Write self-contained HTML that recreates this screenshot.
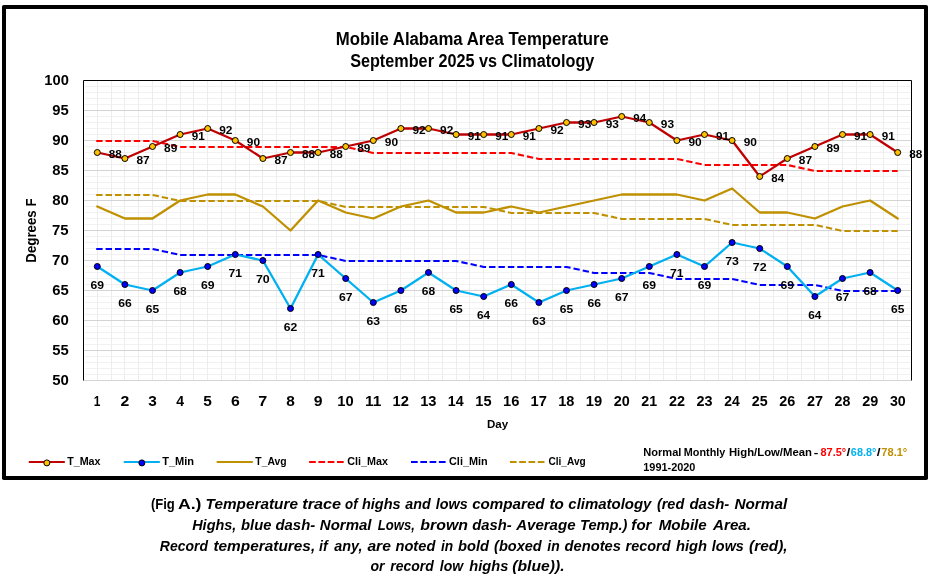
<!DOCTYPE html>
<html lang="en"><head><meta charset="utf-8"><title>Mobile Alabama Area Temperature - September 2025 vs Climatology</title>
<style>html,body{margin:0;padding:0;background:#fff}svg{display:block;will-change:transform}</style></head>
<body>
<svg width="930" height="579" viewBox="0 0 930 579">
<rect width="930" height="579" fill="#fff"/>
<rect x="2" y="5" width="926" height="475" rx="1.8" fill="#000"/>
<rect x="6" y="9" width="918" height="467" fill="#fff"/>
<path d="M85.0 374.5H910.0M85.0 368.5H910.0M85.0 362.5H910.0M85.0 356.5H910.0M85.0 344.5H910.0M85.0 338.5H910.0M85.0 332.5H910.0M85.0 326.5H910.0M85.0 314.5H910.0M85.0 308.5H910.0M85.0 302.5H910.0M85.0 296.5H910.0M85.0 284.5H910.0M85.0 278.5H910.0M85.0 272.5H910.0M85.0 266.5H910.0M85.0 254.5H910.0M85.0 248.5H910.0M85.0 242.5H910.0M85.0 236.5H910.0M85.0 224.5H910.0M85.0 218.5H910.0M85.0 212.5H910.0M85.0 206.5H910.0M85.0 194.5H910.0M85.0 188.5H910.0M85.0 182.5H910.0M85.0 176.5H910.0M85.0 164.5H910.0M85.0 158.5H910.0M85.0 152.5H910.0M85.0 146.5H910.0M85.0 134.5H910.0M85.0 128.5H910.0M85.0 122.5H910.0M85.0 116.5H910.0M85.0 104.5H910.0M85.0 98.5H910.0M85.0 92.5H910.0M85.0 86.5H910.0" stroke="#F1F1F1" stroke-width="1" fill="none"/>
<path d="M97.5 80.5V380.5M111.5 80.5V380.5M124.5 80.5V380.5M138.5 80.5V380.5M152.5 80.5V380.5M166.5 80.5V380.5M180.5 80.5V380.5M193.5 80.5V380.5M207.5 80.5V380.5M221.5 80.5V380.5M235.5 80.5V380.5M249.5 80.5V380.5M262.5 80.5V380.5M276.5 80.5V380.5M290.5 80.5V380.5M304.5 80.5V380.5M318.5 80.5V380.5M331.5 80.5V380.5M345.5 80.5V380.5M359.5 80.5V380.5M373.5 80.5V380.5M387.5 80.5V380.5M400.5 80.5V380.5M414.5 80.5V380.5M428.5 80.5V380.5M442.5 80.5V380.5M456.5 80.5V380.5M469.5 80.5V380.5M483.5 80.5V380.5M497.5 80.5V380.5M511.5 80.5V380.5M525.5 80.5V380.5M538.5 80.5V380.5M552.5 80.5V380.5M566.5 80.5V380.5M580.5 80.5V380.5M594.5 80.5V380.5M607.5 80.5V380.5M621.5 80.5V380.5M635.5 80.5V380.5M649.5 80.5V380.5M663.5 80.5V380.5M676.5 80.5V380.5M690.5 80.5V380.5M704.5 80.5V380.5M718.5 80.5V380.5M732.5 80.5V380.5M745.5 80.5V380.5M759.5 80.5V380.5M773.5 80.5V380.5M787.5 80.5V380.5M801.5 80.5V380.5M814.5 80.5V380.5M828.5 80.5V380.5M842.5 80.5V380.5M856.5 80.5V380.5M870.5 80.5V380.5M883.5 80.5V380.5M897.5 80.5V380.5" stroke="#EDEDED" stroke-width="1" fill="none"/>
<path d="M83.5 380.5H911.5M83.5 350.5H911.5M83.5 320.5H911.5M83.5 290.5H911.5M83.5 260.5H911.5M83.5 230.5H911.5M83.5 200.5H911.5M83.5 170.5H911.5M83.5 140.5H911.5M83.5 110.5H911.5M83.5 80.5H911.5" stroke="#D4D4D4" stroke-width="1" fill="none"/>
<path d="M83.5 380.5V80.5H911.5V380.5" stroke="#000" stroke-width="1" fill="none"/>
<polyline points="96.20,140.95 97.30,140.95 124.90,140.95 152.50,140.95 180.10,146.95 207.70,146.95 235.30,146.95 262.90,146.95 290.50,146.95 318.10,146.95 345.70,146.95 373.30,152.95 400.90,152.95 428.50,152.95 456.10,152.95 483.70,152.95 511.30,152.95 538.90,158.95 566.50,158.95 594.10,158.95 621.70,158.95 649.30,158.95 676.90,158.95 704.50,164.95 732.10,164.95 759.70,164.95 787.30,164.95 814.90,170.95 842.50,170.95 870.10,170.95 897.70,170.95" fill="none" stroke="#FF0000" stroke-width="2.1" stroke-dasharray="6.4 3.0" stroke-linejoin="round"/>
<polyline points="96.20,248.95 97.30,248.95 124.90,248.95 152.50,248.95 180.10,254.95 207.70,254.95 235.30,254.95 262.90,254.95 290.50,254.95 318.10,254.95 345.70,260.95 373.30,260.95 400.90,260.95 428.50,260.95 456.10,260.95 483.70,266.95 511.30,266.95 538.90,266.95 566.50,266.95 594.10,272.95 621.70,272.95 649.30,272.95 676.90,278.95 704.50,278.95 732.10,278.95 759.70,284.95 787.30,284.95 814.90,284.95 842.50,290.95 870.10,290.95 897.70,290.95" fill="none" stroke="#0000FF" stroke-width="2.1" stroke-dasharray="6.4 3.0" stroke-linejoin="round"/>
<polyline points="96.20,194.95 97.30,194.95 124.90,194.95 152.50,194.95 180.10,200.95 207.70,200.95 235.30,200.95 262.90,200.95 290.50,200.95 318.10,200.95 345.70,206.95 373.30,206.95 400.90,206.95 428.50,206.95 456.10,206.95 483.70,206.95 511.30,212.95 538.90,212.95 566.50,212.95 594.10,212.95 621.70,218.95 649.30,218.95 676.90,218.95 704.50,218.95 732.10,224.95 759.70,224.95 787.30,224.95 814.90,224.95 842.50,230.95 870.10,230.95 897.70,230.95" fill="none" stroke="#BF9000" stroke-width="2.1" stroke-dasharray="6.4 3.0" stroke-linejoin="round"/>
<polyline points="97.30,206.50 124.90,218.50 152.50,218.50 180.10,200.50 207.70,194.50 235.30,194.50 262.90,206.50 290.50,230.50 318.10,200.50 345.70,212.50 373.30,218.50 400.90,206.50 428.50,200.50 456.10,212.50 483.70,212.50 511.30,206.50 538.90,212.50 566.50,206.50 594.10,200.50 621.70,194.50 649.30,194.50 676.90,194.50 704.50,200.50 732.10,188.50 759.70,212.50 787.30,212.50 814.90,218.50 842.50,206.50 870.10,200.50 897.70,218.50" fill="none" stroke="#BF9000" stroke-width="2.3" stroke-linejoin="round" stroke-linecap="round"/>
<polyline points="97.30,266.50 124.90,284.50 152.50,290.50 180.10,272.50 207.70,266.50 235.30,254.50 262.90,260.50 290.50,308.50 318.10,254.50 345.70,278.50 373.30,302.50 400.90,290.50 428.50,272.50 456.10,290.50 483.70,296.50 511.30,284.50 538.90,302.50 566.50,290.50 594.10,284.50 621.70,278.50 649.30,266.50 676.90,254.50 704.50,266.50 732.10,242.50 759.70,248.50 787.30,266.50 814.90,296.50 842.50,278.50 870.10,272.50 897.70,290.50" fill="none" stroke="#00B0F0" stroke-width="2.3" stroke-linejoin="round" stroke-linecap="round"/>
<polyline points="97.30,152.50 124.90,158.50 152.50,146.50 180.10,134.50 207.70,128.50 235.30,140.50 262.90,158.50 290.50,152.50 318.10,152.50 345.70,146.50 373.30,140.50 400.90,128.50 428.50,128.50 456.10,134.50 483.70,134.50 511.30,134.50 538.90,128.50 566.50,122.50 594.10,122.50 621.70,116.50 649.30,122.50 676.90,140.50 704.50,134.50 732.10,140.50 759.70,176.50 787.30,158.50 814.90,146.50 842.50,134.50 870.10,134.50 897.70,152.50" fill="none" stroke="#C00000" stroke-width="2.3" stroke-linejoin="round" stroke-linecap="round"/>
<g fill="#0000FF" stroke="#000" stroke-width="1"><circle cx="97.30" cy="266.50" r="3.0"/><circle cx="124.90" cy="284.50" r="3.0"/><circle cx="152.50" cy="290.50" r="3.0"/><circle cx="180.10" cy="272.50" r="3.0"/><circle cx="207.70" cy="266.50" r="3.0"/><circle cx="235.30" cy="254.50" r="3.0"/><circle cx="262.90" cy="260.50" r="3.0"/><circle cx="290.50" cy="308.50" r="3.0"/><circle cx="318.10" cy="254.50" r="3.0"/><circle cx="345.70" cy="278.50" r="3.0"/><circle cx="373.30" cy="302.50" r="3.0"/><circle cx="400.90" cy="290.50" r="3.0"/><circle cx="428.50" cy="272.50" r="3.0"/><circle cx="456.10" cy="290.50" r="3.0"/><circle cx="483.70" cy="296.50" r="3.0"/><circle cx="511.30" cy="284.50" r="3.0"/><circle cx="538.90" cy="302.50" r="3.0"/><circle cx="566.50" cy="290.50" r="3.0"/><circle cx="594.10" cy="284.50" r="3.0"/><circle cx="621.70" cy="278.50" r="3.0"/><circle cx="649.30" cy="266.50" r="3.0"/><circle cx="676.90" cy="254.50" r="3.0"/><circle cx="704.50" cy="266.50" r="3.0"/><circle cx="732.10" cy="242.50" r="3.0"/><circle cx="759.70" cy="248.50" r="3.0"/><circle cx="787.30" cy="266.50" r="3.0"/><circle cx="814.90" cy="296.50" r="3.0"/><circle cx="842.50" cy="278.50" r="3.0"/><circle cx="870.10" cy="272.50" r="3.0"/><circle cx="897.70" cy="290.50" r="3.0"/></g>
<g fill="#FFC000" stroke="#000" stroke-width="1"><circle cx="97.30" cy="152.50" r="3.0"/><circle cx="124.90" cy="158.50" r="3.0"/><circle cx="152.50" cy="146.50" r="3.0"/><circle cx="180.10" cy="134.50" r="3.0"/><circle cx="207.70" cy="128.50" r="3.0"/><circle cx="235.30" cy="140.50" r="3.0"/><circle cx="262.90" cy="158.50" r="3.0"/><circle cx="290.50" cy="152.50" r="3.0"/><circle cx="318.10" cy="152.50" r="3.0"/><circle cx="345.70" cy="146.50" r="3.0"/><circle cx="373.30" cy="140.50" r="3.0"/><circle cx="400.90" cy="128.50" r="3.0"/><circle cx="428.50" cy="128.50" r="3.0"/><circle cx="456.10" cy="134.50" r="3.0"/><circle cx="483.70" cy="134.50" r="3.0"/><circle cx="511.30" cy="134.50" r="3.0"/><circle cx="538.90" cy="128.50" r="3.0"/><circle cx="566.50" cy="122.50" r="3.0"/><circle cx="594.10" cy="122.50" r="3.0"/><circle cx="621.70" cy="116.50" r="3.0"/><circle cx="649.30" cy="122.50" r="3.0"/><circle cx="676.90" cy="140.50" r="3.0"/><circle cx="704.50" cy="134.50" r="3.0"/><circle cx="732.10" cy="140.50" r="3.0"/><circle cx="759.70" cy="176.50" r="3.0"/><circle cx="787.30" cy="158.50" r="3.0"/><circle cx="814.90" cy="146.50" r="3.0"/><circle cx="842.50" cy="134.50" r="3.0"/><circle cx="870.10" cy="134.50" r="3.0"/><circle cx="897.70" cy="152.50" r="3.0"/></g>
<line x1="29.6" y1="462.0" x2="64.1" y2="462.0" stroke="#C00000" stroke-width="2.1" stroke-linecap="round"/><circle cx="46.85" cy="462.9" r="3.0" fill="#FFC000" stroke="#000" stroke-width="1"/>
<line x1="124.6" y1="462.0" x2="159.1" y2="462.0" stroke="#00B0F0" stroke-width="2.1" stroke-linecap="round"/><circle cx="141.85" cy="462.9" r="3.0" fill="#0000FF" stroke="#000" stroke-width="1"/>
<line x1="217.5" y1="462.0" x2="252.1" y2="462.0" stroke="#BF9000" stroke-width="2.1" stroke-linecap="round"/>
<line x1="309.1" y1="462.0" x2="344.0" y2="462.0" stroke="#FF0000" stroke-width="2.1" stroke-dasharray="6.7 2.6"/>
<line x1="411.0" y1="462.0" x2="445.9" y2="462.0" stroke="#0000FF" stroke-width="2.1" stroke-dasharray="6.7 2.6"/>
<line x1="509.9" y1="462.0" x2="544.8" y2="462.0" stroke="#BF9000" stroke-width="2.1" stroke-dasharray="6.7 2.6"/>
<g font-family='"Liberation Sans", sans-serif' font-weight="bold" fill="#000" xml:space="preserve">
<text transform="translate(335.70,44.50) scale(0.9466,1)" font-size="17.71">Mobile Alabama Area Temperature</text>
<text transform="translate(350.14,67.10) scale(0.9164,1)" font-size="17.71">September 2025 vs Climatology</text>
<text transform="translate(52.16,385.10) scale(1.0814,1)" font-size="13.85">50</text>
<text transform="translate(52.17,355.10) scale(1.0690,1)" font-size="13.85">55</text>
<text transform="translate(52.16,325.10) scale(1.0814,1)" font-size="13.85">60</text>
<text transform="translate(52.17,295.10) scale(1.0690,1)" font-size="13.85">65</text>
<text transform="translate(51.97,265.10) scale(1.0941,1)" font-size="13.85">70</text>
<text transform="translate(51.98,235.10) scale(1.0814,1)" font-size="13.85">75</text>
<text transform="translate(52.16,205.10) scale(1.0814,1)" font-size="13.85">80</text>
<text transform="translate(52.17,175.10) scale(1.0690,1)" font-size="13.85">85</text>
<text transform="translate(52.16,145.10) scale(1.0814,1)" font-size="13.85">90</text>
<text transform="translate(52.17,115.10) scale(1.0690,1)" font-size="13.85">95</text>
<text transform="translate(44.32,85.10) scale(1.0615,1)" font-size="13.85">100</text>
<text transform="translate(93.78,406.00) scale(0.8615,1)" font-size="13.85">1</text>
<text transform="translate(120.53,406.00) scale(1.1400,1)" font-size="13.85">2</text>
<text transform="translate(148.33,406.00) scale(1.1122,1)" font-size="13.85">3</text>
<text transform="translate(176.13,406.00) scale(1.0133,1)" font-size="13.85">4</text>
<text transform="translate(203.34,406.00) scale(1.1122,1)" font-size="13.85">5</text>
<text transform="translate(230.93,406.00) scale(1.1400,1)" font-size="13.85">6</text>
<text transform="translate(258.32,406.00) scale(1.1692,1)" font-size="13.85">7</text>
<text transform="translate(286.14,406.00) scale(1.1122,1)" font-size="13.85">8</text>
<text transform="translate(313.73,406.00) scale(1.1400,1)" font-size="13.85">9</text>
<text transform="translate(337.36,406.00) scale(1.0643,1)" font-size="13.85">10</text>
<text transform="translate(364.92,406.00) scale(1.1175,1)" font-size="13.85">11</text>
<text transform="translate(392.56,406.00) scale(1.0643,1)" font-size="13.85">12</text>
<text transform="translate(420.16,406.00) scale(1.0643,1)" font-size="13.85">13</text>
<text transform="translate(447.79,406.00) scale(1.0276,1)" font-size="13.85">14</text>
<text transform="translate(475.37,406.00) scale(1.0518,1)" font-size="13.85">15</text>
<text transform="translate(502.96,406.00) scale(1.0643,1)" font-size="13.85">16</text>
<text transform="translate(530.56,406.00) scale(1.0643,1)" font-size="13.85">17</text>
<text transform="translate(558.17,406.00) scale(1.0518,1)" font-size="13.85">18</text>
<text transform="translate(585.76,406.00) scale(1.0643,1)" font-size="13.85">19</text>
<text transform="translate(613.73,406.00) scale(1.0395,1)" font-size="13.85">20</text>
<text transform="translate(641.34,406.00) scale(1.0276,1)" font-size="13.85">21</text>
<text transform="translate(668.93,406.00) scale(1.0395,1)" font-size="13.85">22</text>
<text transform="translate(696.53,406.00) scale(1.0395,1)" font-size="13.85">23</text>
<text transform="translate(724.15,406.00) scale(1.0045,1)" font-size="13.85">24</text>
<text transform="translate(751.74,406.00) scale(1.0276,1)" font-size="13.85">25</text>
<text transform="translate(779.33,406.00) scale(1.0395,1)" font-size="13.85">26</text>
<text transform="translate(806.93,406.00) scale(1.0395,1)" font-size="13.85">27</text>
<text transform="translate(834.54,406.00) scale(1.0276,1)" font-size="13.85">28</text>
<text transform="translate(862.13,406.00) scale(1.0395,1)" font-size="13.85">29</text>
<text transform="translate(889.91,406.00) scale(1.0276,1)" font-size="13.85">30</text>
<text transform="translate(487.00,427.50) scale(1.0462,1)" font-size="11.03">Day</text>
<text transform="translate(36.0,262.64) rotate(-90) scale(0.9429,1)" font-size="14.08">Degrees F</text>
<text transform="translate(67.14,464.90) scale(0.9368,1)" font-size="11.47">T_Max</text>
<text transform="translate(162.14,464.90) scale(0.9637,1)" font-size="11.47">T_Min</text>
<text transform="translate(255.35,464.90) scale(0.9030,1)" font-size="11.47">T_Avg</text>
<text transform="translate(347.33,464.90) scale(0.9422,1)" font-size="11.47">Cli_Max</text>
<text transform="translate(449.03,464.90) scale(0.9468,1)" font-size="11.47">Cli_Min</text>
<text transform="translate(548.46,464.90) scale(0.8805,1)" font-size="11.47">Cli_Avg</text>
<text transform="translate(643.23,455.80) scale(1.0055,1)" font-size="11.03">Normal </text>
<text transform="translate(683.84,455.80) scale(0.9831,1)" font-size="11.03">Monthly </text>
<text transform="translate(728.91,455.80) scale(1.0277,1)" font-size="11.03">High/Low/Mean </text>
<text transform="translate(813.81,455.80) scale(1.2500,1)" font-size="11.03">- </text>
<text transform="translate(820.47,455.80) scale(0.9960,1)" font-size="11.03" fill="#FF0000">87.5° </text>
<text transform="translate(846.57,455.80) scale(1.2500,1)" font-size="11.03">/ </text>
<text transform="translate(850.87,455.80) scale(0.9840,1)" font-size="11.03" fill="#00B0F0">68.8° </text>
<text transform="translate(876.87,455.80) scale(1.2500,1)" font-size="11.03">/ </text>
<text transform="translate(881.30,455.80) scale(1.0067,1)" font-size="11.03" fill="#BF9000">78.1° </text>
<text transform="translate(643.24,471.00) scale(0.9903,1)" font-size="11.03">1991-2020</text>
<text transform="translate(150.89,508.60) scale(0.9184,1)" font-size="14.22">(Fig </text>
<text transform="translate(177.89,508.60) scale(1.2449,1)" font-size="14.22">A.) </text>
<text transform="translate(205.62,508.60) scale(1.0788,1)" font-size="14.22" font-style="italic">Temperature </text>
<text transform="translate(302.24,508.60) scale(1.1455,1)" font-size="14.22" font-style="italic">trace </text>
<text transform="translate(345.03,508.60) scale(0.9357,1)" font-size="14.22" font-style="italic">of </text>
<text transform="translate(361.96,508.60) scale(1.0216,1)" font-size="14.22" font-style="italic">highs </text>
<text transform="translate(405.30,508.60) scale(1.0039,1)" font-size="14.22" font-style="italic">and </text>
<text transform="translate(435.76,508.60) scale(1.0119,1)" font-size="14.22" font-style="italic">lows </text>
<text transform="translate(472.17,508.60) scale(1.0670,1)" font-size="14.22" font-style="italic">compared </text>
<text transform="translate(549.39,508.60) scale(1.0703,1)" font-size="14.22" font-style="italic">to </text>
<text transform="translate(568.37,508.60) scale(1.0519,1)" font-size="14.22" font-style="italic">climatology </text>
<text transform="translate(656.89,508.60) scale(1.0189,1)" font-size="14.22" font-style="italic">(red </text>
<text transform="translate(689.45,508.60) scale(1.0520,1)" font-size="14.22" font-style="italic">dash- </text>
<text transform="translate(734.44,508.60) scale(1.0771,1)" font-size="14.22" font-style="italic">Normal </text>
<text transform="translate(192.16,529.60) scale(1.0183,1)" font-size="14.22" font-style="italic">Highs, </text>
<text transform="translate(241.05,529.60) scale(1.0386,1)" font-size="14.22" font-style="italic">blue </text>
<text transform="translate(275.45,529.60) scale(1.0493,1)" font-size="14.22" font-style="italic">dash- </text>
<text transform="translate(319.85,529.60) scale(1.0546,1)" font-size="14.22" font-style="italic">Normal </text>
<text transform="translate(377.79,529.60) scale(0.9181,1)" font-size="14.22" font-style="italic">Lows, </text>
<text transform="translate(420.33,529.60) scale(1.1184,1)" font-size="14.22" font-style="italic">brown </text>
<text transform="translate(472.35,529.60) scale(1.0386,1)" font-size="14.22" font-style="italic">dash- </text>
<text transform="translate(516.18,529.60) scale(1.0585,1)" font-size="14.22" font-style="italic">Average </text>
<text transform="translate(579.97,529.60) scale(1.0321,1)" font-size="14.22" font-style="italic">Temp.) </text>
<text transform="translate(631.37,529.60) scale(1.0579,1)" font-size="14.22" font-style="italic">for </text>
<text transform="translate(658.74,529.60) scale(1.0669,1)" font-size="14.22" font-style="italic">Mobile </text>
<text transform="translate(712.98,529.60) scale(1.0696,1)" font-size="14.22" font-style="italic">Area. </text>
<text transform="translate(159.87,550.50) scale(0.9829,1)" font-size="14.22" font-style="italic">Record </text>
<text transform="translate(213.38,550.50) scale(1.0839,1)" font-size="14.22" font-style="italic">temperatures, </text>
<text transform="translate(319.07,550.50) scale(1.0000,1)" font-size="14.22" font-style="italic">if </text>
<text transform="translate(334.30,550.50) scale(1.0125,1)" font-size="14.22" font-style="italic">any, </text>
<text transform="translate(367.40,550.50) scale(1.1000,1)" font-size="14.22" font-style="italic">are </text>
<text transform="translate(395.46,550.50) scale(1.0312,1)" font-size="14.22" font-style="italic">noted </text>
<text transform="translate(440.88,550.50) scale(0.9686,1)" font-size="14.22" font-style="italic">in </text>
<text transform="translate(458.06,550.50) scale(1.0324,1)" font-size="14.22" font-style="italic">bold </text>
<text transform="translate(494.09,550.50) scale(1.0230,1)" font-size="14.22" font-style="italic">(boxed </text>
<text transform="translate(547.27,550.50) scale(0.9771,1)" font-size="14.22" font-style="italic">in </text>
<text transform="translate(564.56,550.50) scale(1.0342,1)" font-size="14.22" font-style="italic">denotes </text>
<text transform="translate(625.56,550.50) scale(1.0166,1)" font-size="14.22" font-style="italic">record </text>
<text transform="translate(675.96,550.50) scale(1.0345,1)" font-size="14.22" font-style="italic">high </text>
<text transform="translate(711.86,550.50) scale(1.0119,1)" font-size="14.22" font-style="italic">lows </text>
<text transform="translate(749.06,550.50) scale(1.0847,1)" font-size="14.22" font-style="italic">(red), </text>
<text transform="translate(370.40,571.20) scale(0.9907,1)" font-size="14.22" font-style="italic">or </text>
<text transform="translate(390.17,571.20) scale(0.9872,1)" font-size="14.22" font-style="italic">record </text>
<text transform="translate(439.87,571.20) scale(0.9875,1)" font-size="14.22" font-style="italic">low </text>
<text transform="translate(469.26,571.20) scale(1.0297,1)" font-size="14.22" font-style="italic">highs </text>
<text transform="translate(512.35,571.20) scale(1.1015,1)" font-size="14.22" font-style="italic">(blue)). </text>
<text transform="translate(108.84,158.00) scale(1.0783,1)" font-size="10.88">88</text>
<text transform="translate(136.44,164.00) scale(1.0941,1)" font-size="10.88">87</text>
<text transform="translate(164.04,152.00) scale(1.0941,1)" font-size="10.88">89</text>
<text transform="translate(191.64,140.00) scale(1.0783,1)" font-size="10.88">91</text>
<text transform="translate(219.24,134.00) scale(1.0941,1)" font-size="10.88">92</text>
<text transform="translate(246.84,146.00) scale(1.0941,1)" font-size="10.88">90</text>
<text transform="translate(274.44,164.00) scale(1.0941,1)" font-size="10.88">87</text>
<text transform="translate(302.04,158.00) scale(1.0783,1)" font-size="10.88">88</text>
<text transform="translate(329.64,158.00) scale(1.0783,1)" font-size="10.88">88</text>
<text transform="translate(357.24,152.00) scale(1.0941,1)" font-size="10.88">89</text>
<text transform="translate(384.84,146.00) scale(1.0941,1)" font-size="10.88">90</text>
<text transform="translate(412.44,134.00) scale(1.0941,1)" font-size="10.88">92</text>
<text transform="translate(440.04,134.00) scale(1.0941,1)" font-size="10.88">92</text>
<text transform="translate(467.64,140.00) scale(1.0783,1)" font-size="10.88">91</text>
<text transform="translate(495.24,140.00) scale(1.0783,1)" font-size="10.88">91</text>
<text transform="translate(522.84,140.00) scale(1.0783,1)" font-size="10.88">91</text>
<text transform="translate(550.44,134.00) scale(1.0941,1)" font-size="10.88">92</text>
<text transform="translate(578.04,128.00) scale(1.0941,1)" font-size="10.88">93</text>
<text transform="translate(605.64,128.00) scale(1.0941,1)" font-size="10.88">93</text>
<text transform="translate(633.25,122.00) scale(1.0629,1)" font-size="10.88">94</text>
<text transform="translate(660.84,128.00) scale(1.0941,1)" font-size="10.88">93</text>
<text transform="translate(688.44,146.00) scale(1.0941,1)" font-size="10.88">90</text>
<text transform="translate(716.04,140.00) scale(1.0783,1)" font-size="10.88">91</text>
<text transform="translate(743.64,146.00) scale(1.0941,1)" font-size="10.88">90</text>
<text transform="translate(771.25,182.00) scale(1.0629,1)" font-size="10.88">84</text>
<text transform="translate(798.84,164.00) scale(1.0941,1)" font-size="10.88">87</text>
<text transform="translate(826.44,152.00) scale(1.0941,1)" font-size="10.88">89</text>
<text transform="translate(854.04,140.00) scale(1.0783,1)" font-size="10.88">91</text>
<text transform="translate(881.64,140.00) scale(1.0783,1)" font-size="10.88">91</text>
<text transform="translate(909.24,158.00) scale(1.0783,1)" font-size="10.88">88</text>
<text transform="translate(90.58,288.90) scale(1.1206,1)" font-size="10.88">69</text>
<text transform="translate(118.18,306.90) scale(1.1206,1)" font-size="10.88">66</text>
<text transform="translate(145.78,312.90) scale(1.1043,1)" font-size="10.88">65</text>
<text transform="translate(173.38,294.90) scale(1.1043,1)" font-size="10.88">68</text>
<text transform="translate(200.98,288.90) scale(1.1206,1)" font-size="10.88">69</text>
<text transform="translate(228.39,276.90) scale(1.1206,1)" font-size="10.88">71</text>
<text transform="translate(255.98,282.90) scale(1.1373,1)" font-size="10.88">70</text>
<text transform="translate(283.78,330.90) scale(1.1206,1)" font-size="10.88">62</text>
<text transform="translate(311.19,276.90) scale(1.1206,1)" font-size="10.88">71</text>
<text transform="translate(338.98,300.90) scale(1.1206,1)" font-size="10.88">67</text>
<text transform="translate(366.58,324.90) scale(1.1206,1)" font-size="10.88">63</text>
<text transform="translate(394.18,312.90) scale(1.1043,1)" font-size="10.88">65</text>
<text transform="translate(421.78,294.90) scale(1.1043,1)" font-size="10.88">68</text>
<text transform="translate(449.38,312.90) scale(1.1043,1)" font-size="10.88">65</text>
<text transform="translate(476.99,318.90) scale(1.0886,1)" font-size="10.88">64</text>
<text transform="translate(504.58,306.90) scale(1.1206,1)" font-size="10.88">66</text>
<text transform="translate(532.18,324.90) scale(1.1206,1)" font-size="10.88">63</text>
<text transform="translate(559.78,312.90) scale(1.1043,1)" font-size="10.88">65</text>
<text transform="translate(587.38,306.90) scale(1.1206,1)" font-size="10.88">66</text>
<text transform="translate(614.98,300.90) scale(1.1206,1)" font-size="10.88">67</text>
<text transform="translate(642.58,288.90) scale(1.1206,1)" font-size="10.88">69</text>
<text transform="translate(669.99,276.90) scale(1.1206,1)" font-size="10.88">71</text>
<text transform="translate(697.78,288.90) scale(1.1206,1)" font-size="10.88">69</text>
<text transform="translate(725.18,264.90) scale(1.1373,1)" font-size="10.88">73</text>
<text transform="translate(752.78,270.90) scale(1.1373,1)" font-size="10.88">72</text>
<text transform="translate(780.58,288.90) scale(1.1206,1)" font-size="10.88">69</text>
<text transform="translate(808.19,318.90) scale(1.0886,1)" font-size="10.88">64</text>
<text transform="translate(835.78,300.90) scale(1.1206,1)" font-size="10.88">67</text>
<text transform="translate(863.38,294.90) scale(1.1043,1)" font-size="10.88">68</text>
<text transform="translate(890.98,312.90) scale(1.1043,1)" font-size="10.88">65</text>
</g>
</svg>
</body></html>
